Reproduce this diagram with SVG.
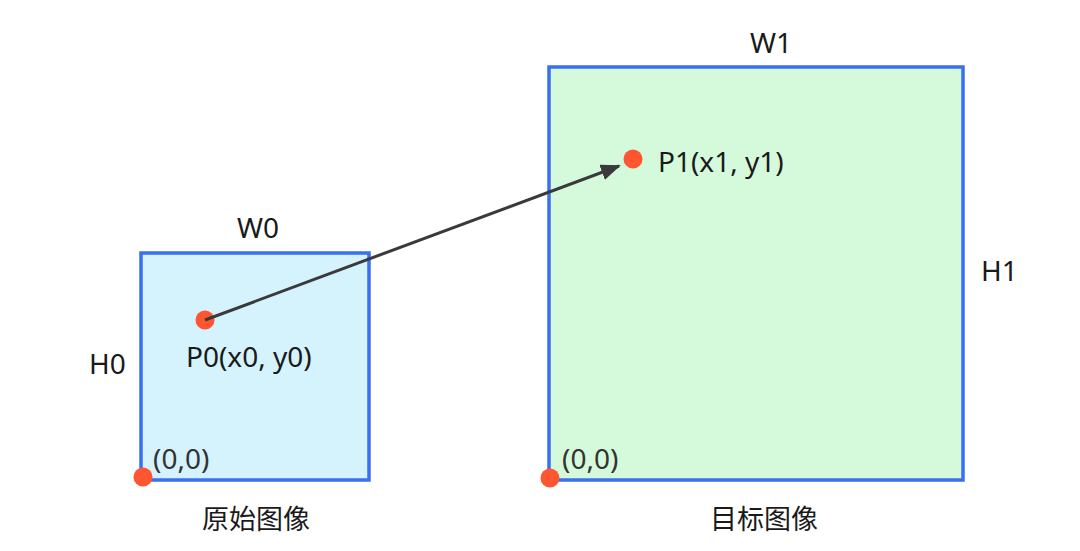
<svg xmlns="http://www.w3.org/2000/svg" width="1080" height="551" viewBox="0 0 1080 551">
<defs>
<style>
.box{stroke:#3a6ff2;stroke-width:3.5}
.dot{fill:#ff5530}
.t{font-family:"Noto Sans","Open Sans","Noto Sans CJK SC",sans-serif;font-size:28px;fill:#1a1a1a}
.c{font-size:27px}
.o{fill:#333}
</style>
<marker id="ah" viewBox="0 0 10 10" refX="9" refY="5" markerWidth="20" markerHeight="16" markerUnits="userSpaceOnUse" orient="auto" preserveAspectRatio="none">
<path d="M0,0 L10,5 L0,10 z" fill="#3a3a3a"/>
</marker>
</defs>
<rect width="1080" height="551" fill="#ffffff"/>
<g id="src">
<rect class="box" x="141" y="253" width="228" height="227" fill="#d4f3fd"/>
<text class="t" x="258" y="238" text-anchor="middle">W0</text>
<text class="t" x="89" y="374">H0</text>
<text class="t" x="186" y="367">P0(x0, y0)</text>
<text class="t o" x="153" y="469">(0,0)</text>
<text class="t c" x="256" y="529" text-anchor="middle">原始图像</text>
<circle class="dot" cx="205" cy="320" r="9.5"/>
<circle class="dot" cx="143" cy="477" r="9.5"/>
</g>
<g id="dst">
<rect class="box" x="549" y="67" width="414" height="413" fill="#d5fadb"/>
<text class="t" x="771" y="53" text-anchor="middle">W1</text>
<text class="t" x="981" y="281">H1</text>
<text class="t" x="658" y="172">P1(x1, y1)</text>
<text class="t o" x="562" y="469">(0,0)</text>
<text class="t c" x="764" y="529" text-anchor="middle">目标图像</text>
<circle class="dot" cx="633" cy="159" r="9.5"/>
<circle class="dot" cx="550" cy="478" r="9.5"/>
</g>
<g id="connectors">
<line x1="205" y1="320" x2="619" y2="166" stroke="#3a3a3a" stroke-width="3" marker-end="url(#ah)"/>
</g>
</svg>
